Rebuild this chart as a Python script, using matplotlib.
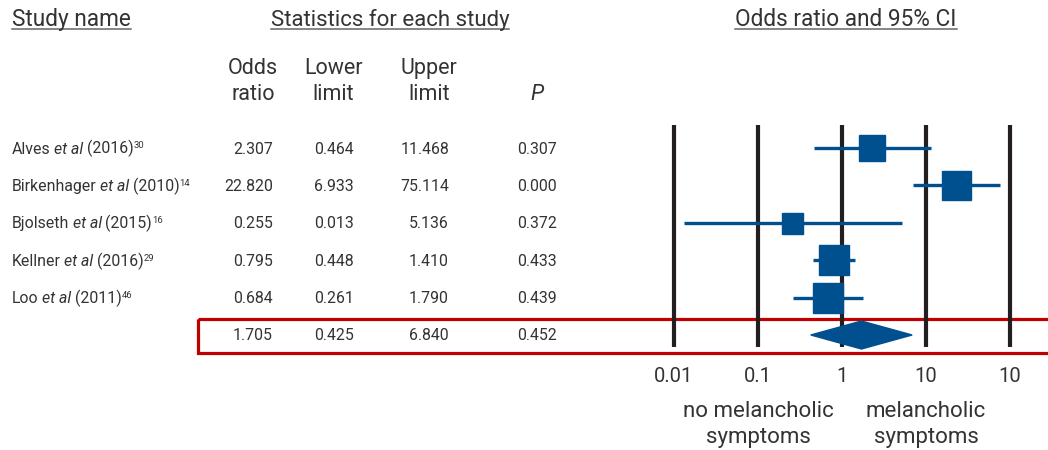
import matplotlib
matplotlib.use("Agg")
import matplotlib.pyplot as plt
import matplotlib.transforms as mtransforms
from matplotlib.patches import Polygon, Rectangle
import numpy as np

plt.rcParams['font.family'] = ['Roboto', 'DejaVu Sans']

# data
authors = ["Alves", "Birkenhager", "Bjolseth", "Kellner", "Loo"]
years = ["2016", "2010", "2015", "2016", "2011"]
refs = ["30", "14", "16", "29", "46"]
odds = [2.307, 22.820, 0.255, 0.795, 0.684]
lower = [0.464, 6.933, 0.013, 0.448, 0.261]
upper = [11.468, 75.114, 5.136, 1.410, 1.790]
pvals = [0.307, 0.000, 0.372, 0.433, 0.439]
box_px = [27, 29, 21, 30, 30]          # square size (study weight)
pooled = [1.705, 0.425, 6.840, 0.452]  # OR, lower, upper, P
tick_vals = [0.01, 0.1, 1, 10, 100]
tick_text = ["0.01", "0.1", "1", "10", "10"]

BLUE = "#00508f"
RED = "#c00000"
INK = "#333333"

W, H = 1048, 450
fig = plt.figure(figsize=(W / 100, H / 100), dpi=100, facecolor='white')

# text layer in pixel coordinates
ax = fig.add_axes([0, 0, 1, 1])
ax.set_xlim(0, W)
ax.set_ylim(H, 0)
ax.axis('off')
renderer = fig.canvas.get_renderer()

row_y = 148 + 37.4 * np.arange(len(authors) + 1)


def pieces(x, y, parts, size):
    # parts: (text, style, raise_px, scale)
    for s, style, dy, sc in parts:
        t = ax.text(x, y - dy, s, fontsize=size * sc, style=style,
                    color=INK, ha='left', va='baseline')
        x += t.get_window_extent(renderer).width
    return x


def underlined(x, y, s, size, ha):
    t = ax.text(x, y, s, fontsize=size, color=INK, ha=ha, va='baseline')
    bb = t.get_window_extent(renderer)
    ax.plot([bb.x0, bb.x1], [y + 2.5, y + 2.5], color="#666666", lw=1.1)


underlined(12, 26, "Study name", 16.3, 'left')
underlined(390, 26, "Statistics for each study", 16.0, 'center')
underlined(846, 26, "Odds ratio and 95% CI", 16.3, 'center')

col_x = [253, 333, 429]
for cx, a, b in zip(col_x, ["Odds", "Lower", "Upper"], ["ratio", "limit", "limit"]):
    ax.text(cx, 74, a, fontsize=15.5, color=INK, ha='center', va='baseline')
    ax.text(cx, 100, b, fontsize=15.5, color=INK, ha='center', va='baseline')
ax.text(537, 100, "P", fontsize=15.5, style='italic', color=INK, ha='center', va='baseline')

for i in range(len(authors)):
    yb = row_y[i] + 5.5
    x = pieces(12, yb, [(authors[i], 'normal', 0, 1)], 11.4)
    x = pieces(x + 3.5, yb, [("et al", 'italic', 0, 1)], 11.4)
    x = pieces(x + 3.5, yb, [("(" + years[i] + ")", 'normal', 0, 1),
                             (refs[i], 'normal', 5, 0.6)], 11.4)

num_cols = [273, 354, 449, 557]
all_rows = list(zip(odds, lower, upper, pvals)) + [tuple(pooled)]
for i, vals in enumerate(all_rows):
    for cx, v in zip(num_cols, vals):
        ax.text(cx, row_y[i] + 5.5, f"{v:.3f}", fontsize=11.4, color=INK,
                ha='right', va='baseline')

# forest panel
fx0, fx1, fy0, fy1 = 640, 1048, 110, 360
axf = fig.add_axes([fx0 / W, 1 - fy1 / H, (fx1 - fx0) / W, (fy1 - fy0) / H])
axf.set_xscale('log')
dec = 84.0
axf.set_xlim(10 ** (-2 - (674 - fx0) / dec), 10 ** (-2 + (fx1 - 674) / dec))
axf.set_ylim(fy1, fy0)
axf.axis('off')

for tv in tick_vals:
    axf.plot([tv, tv], [125, 347], color="#231f20", lw=3.0, solid_capstyle='butt', zorder=1)

for i in range(len(authors)):
    axf.plot([lower[i], upper[i]], [row_y[i], row_y[i]], color=BLUE, lw=2.4,
             solid_capstyle='butt', zorder=2)
    axf.plot(odds[i], row_y[i], marker='s', ms=box_px[i] * 0.72, color=BLUE,
             mec=BLUE, zorder=3)

py = row_y[-1]
diamond = Polygon([(pooled[1], py), (pooled[0], py - 14), (pooled[2], py),
                   (pooled[0], py + 14)], closed=True, fc=BLUE, ec=BLUE, zorder=3)
axf.add_patch(diamond)

# red box around the pooled row
ax.add_patch(Rectangle((197.5, 318.5), 870, 34, fill=False, ec=RED, lw=2.3, zorder=5))

trans = mtransforms.blended_transform_factory(axf.transData, ax.transData)
for tv, tt in zip(tick_vals, tick_text):
    ax.text(tv, 382, tt, transform=trans, fontsize=14.5, color=INK,
            ha='center', va='baseline')

ax.text(758, 417, "no melancholic", fontsize=16, color=INK, ha='center', va='baseline')
ax.text(758, 443, "symptoms", fontsize=16, color=INK, ha='center', va='baseline')
ax.text(926, 417, "melancholic", fontsize=16, color=INK, ha='center', va='baseline')
ax.text(926, 443, "symptoms", fontsize=16, color=INK, ha='center', va='baseline')

fig.savefig("out.png", dpi=100, facecolor='white')
